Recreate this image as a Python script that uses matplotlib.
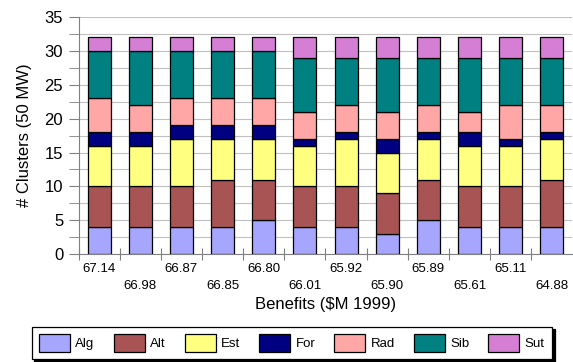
import numpy as np
from matplotlib import pyplot as plt
from matplotlib.ticker import MultipleLocator

plt.rcParams['font.family'] = ['Liberation Sans', 'DejaVu Sans']

# benefits per plan ($M 1999)
benefits = ['67.14', '66.98', '66.87', '66.85', '66.80', '66.01',
            '65.92', '65.90', '65.89', '65.61', '65.11', '64.88']

# clusters per region
alg = [4, 4, 4, 4, 5, 4, 4, 3, 5, 4, 4, 4]
alt = [6, 6, 6, 7, 6, 6, 6, 6, 6, 6, 6, 7]
est = [6, 6, 7, 6, 6, 6, 7, 6, 6, 6, 6, 6]
fore = [2, 2, 2, 2, 2, 1, 1, 2, 1, 2, 1, 1]
rad = [5, 4, 4, 4, 4, 4, 4, 4, 4, 3, 5, 4]
sib = [7, 8, 7, 7, 7, 8, 7, 8, 7, 8, 7, 7]
sut = [2, 2, 2, 2, 2, 3, 3, 3, 3, 3, 3, 3]

series = [('Alg', alg, '#a6a6ff'), ('Alt', alt, '#a85454'),
          ('Est', est, '#ffff80'), ('For', fore, '#000080'),
          ('Rad', rad, '#ffa6a6'), ('Sib', sib, '#008080'),
          ('Sut', sut, '#d47fd4')]

fig = plt.figure(figsize=(5.73, 3.62), dpi=100)
ax = fig.add_axes([0.137, 0.298, 0.862, 0.655])

x = np.arange(len(benefits))
bottom = np.zeros(len(benefits))
for name, vals, col in series:
    ax.bar(x, vals, 0.56, bottom=bottom, color=col, edgecolor='black',
           linewidth=0.9, label=name, zorder=3)
    bottom += np.array(vals)

ax.set_ylim(0, 35)
ax.set_xlim(-0.5, len(benefits) - 0.5)
ax.yaxis.set_major_locator(MultipleLocator(5))
ax.yaxis.set_minor_locator(MultipleLocator(2.5))
ax.grid(axis='y', which='both', color='#c0c0c0', linewidth=0.8, zorder=0)
ax.tick_params(axis='y', which='major', labelsize=12, length=7,
               color='#808080', pad=4)
ax.tick_params(axis='y', which='minor', length=7, color='#808080')

# category boundaries as ticks, labels staggered on two rows
ax.set_xticks(np.arange(len(benefits)) - 0.5, minor=False)
ax.set_xticklabels([])
ax.set_xticks(x, minor=True)
ax.set_xticklabels([b if i % 2 == 0 else '\n' + b for i, b in enumerate(benefits)],
                   minor=True, fontsize=9.5, linespacing=1.55)
ax.tick_params(axis='x', which='major', direction='inout', length=8, color='#808080')
ax.tick_params(axis='x', which='minor', length=0, pad=6.3)

for s in ['top', 'right']:
    ax.spines[s].set_visible(False)
for s in ['left', 'bottom']:
    ax.spines[s].set_color('#808080')

ax.set_ylabel('# Clusters (50 MW)', fontsize=12, labelpad=9)
ax.set_xlabel('Benefits ($M 1999)', fontsize=12, labelpad=4)

leg = fig.legend(loc='upper left', bbox_to_anchor=(0.0553, 0, 0.908, 0.0975),
                 mode='expand', ncol=7, fontsize=9.5, frameon=True,
                 fancybox=False, shadow={'color': 'black', 'alpha': 1},
                 edgecolor='black', borderaxespad=0,
                 handlelength=2.35, handleheight=1.75, handletextpad=0.4,
                 borderpad=0.55)
leg.get_frame().set_linewidth(0.9)

fig.savefig('out.png', dpi=100)
